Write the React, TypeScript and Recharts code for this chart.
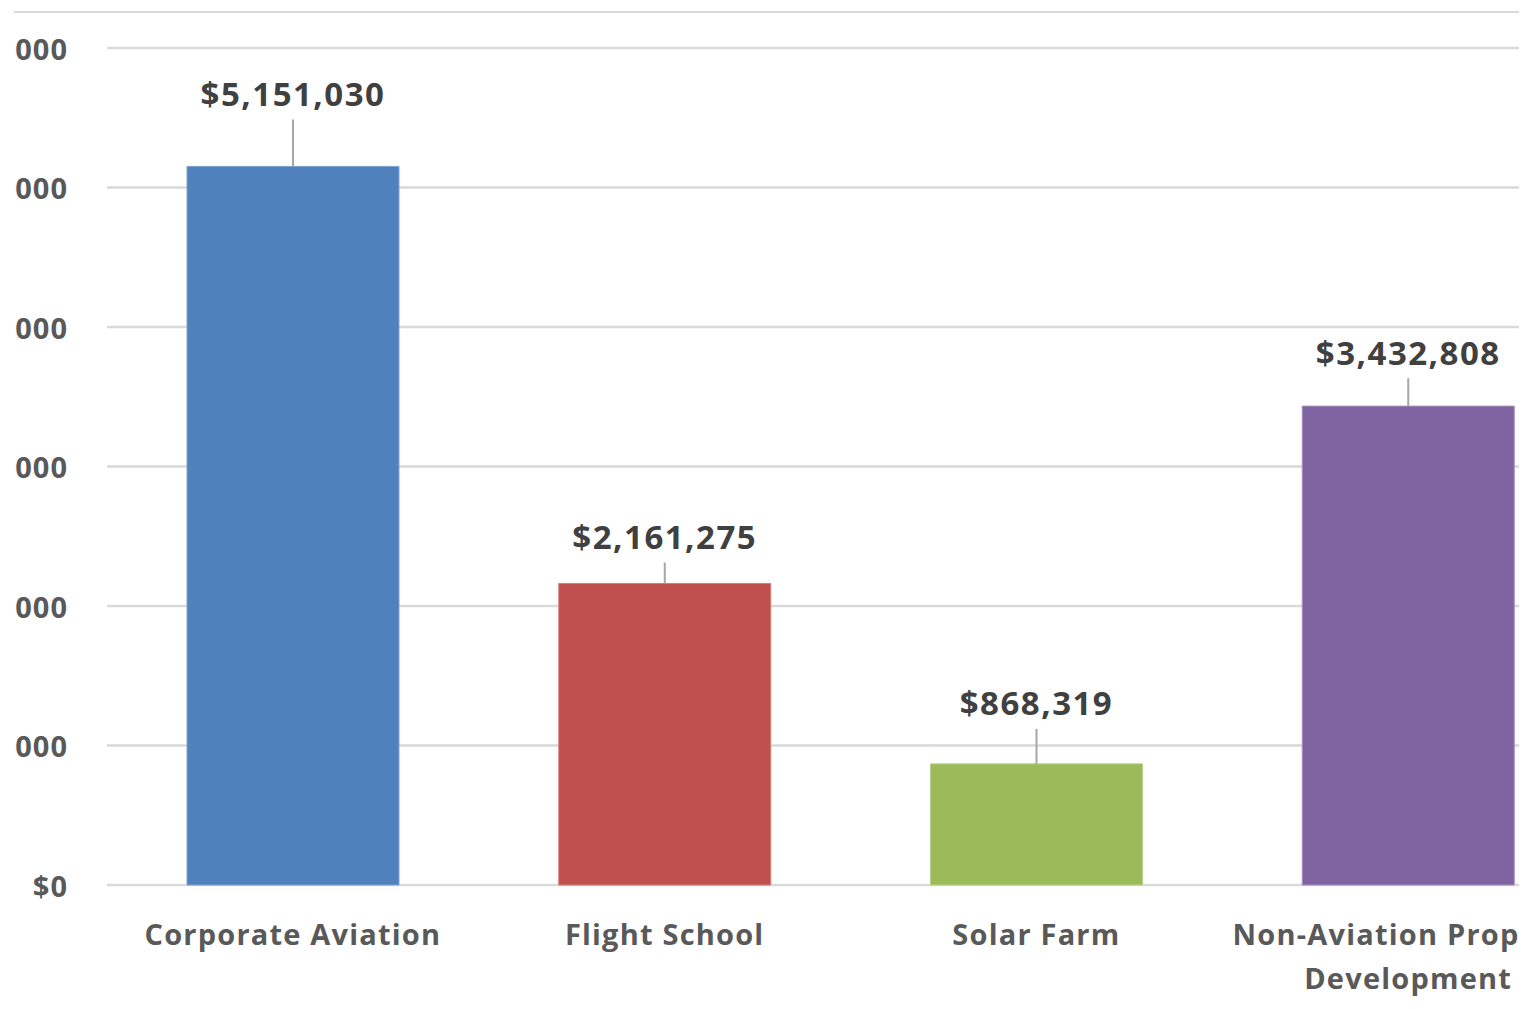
import React from "react";
import { BarChart, Bar, XAxis, YAxis, CartesianGrid, Cell, LabelList } from "recharts";

const categories = ["Corporate Aviation", "Flight School", "Solar Farm", "Non-Aviation Property Development"];
const revenue = [5151030, 2161275, 868319, 3432808];
const yTicks = [0, 1000000, 2000000, 3000000, 4000000, 5000000, 6000000];

const barColors = ["#4F81BD", "#C0504D", "#9BBB59", "#8064A2"];
const barStrokes = ["#7fa3d0", "#d27e7b", "#b9d08a", "#a48ec0"];
const labelLift = [73, 47, 61, 54];

const data = categories.map((name, i) => ({ name, value: revenue[i] }));

const FONT = "'Open Sans', 'Noto Sans', sans-serif";
const fmt = (v: number) => "$" + v.toLocaleString("en-US");

const wrap = (s: string, max: number) => {
  const words = s.split(" ");
  const lines: string[] = [];
  let cur = "";
  for (const w of words) {
    const t = cur ? cur + " " + w : w;
    if (t.length > max && cur) {
      lines.push(cur);
      cur = w;
    } else cur = t;
  }
  if (cur) lines.push(cur);
  return lines;
};

const CatTick = (props: any) => {
  const { x, y, payload } = props;
  const lines = wrap(String(payload.value), 22);
  return (
    <text
      x={x}
      y={y}
      textAnchor="middle"
      fill="#595959"
      style={{ fontFamily: FONT, fontSize: 29, fontWeight: 700, letterSpacing: 1.2 }}
    >
      {lines.map((l, i) => (
        <tspan key={i} x={x} y={y + 40 + i * 44} dominantBaseline="central">
          {l}
        </tspan>
      ))}
    </text>
  );
};

const YTick = (props: any) => {
  const { x, y, payload } = props;
  return (
    <text
      x={x}
      y={y}
      textAnchor="end"
      dominantBaseline="central"
      fill="#595959"
      style={{ fontFamily: FONT, fontSize: 29, fontWeight: 700, letterSpacing: 1 }}
    >
      {fmt(payload.value)}
    </text>
  );
};

const ValueLabel = (props: any) => {
  const { x, y, width, value, index } = props;
  const cx = x + width / 2;
  const ly = y - labelLift[index];
  return (
    <g>
      <line x1={cx} x2={cx} y1={ly + 26} y2={y} stroke="#a6a6a6" strokeWidth={2} />
      <text
        x={cx}
        y={ly}
        textAnchor="middle"
        dominantBaseline="central"
        fill="#404040"
        style={{ fontFamily: FONT, fontSize: 33, fontWeight: 700, letterSpacing: 1.5 }}
      >
        {fmt(value)}
      </text>
    </g>
  );
};

export default function App() {
  return (
    <div style={{ position: "absolute", left: 0, top: 0, width: 1525, height: 1009, background: "#fff" }}>
      <div style={{ position: "absolute", left: 14, top: 11, width: 1505, height: 0, borderTop: "2.5px solid #d9d9d9" }} />
      <div style={{ position: "absolute", left: 14, top: 0, width: 1505, height: 1009, overflow: "hidden" }}>
        <div style={{ position: "absolute", left: -14, top: 0 }}>
          <BarChart
            width={1610}
            height={1009}
            data={data}
            margin={{ top: 48, right: 16, bottom: 0, left: 0 }}
          >
            <CartesianGrid vertical={false} stroke="#d9d9d9" strokeWidth={2.5} />
            <XAxis
              dataKey="name"
              axisLine={false}
              tickLine={false}
              height={124}
              interval={0}
              tick={<CatTick />}
            />
            <YAxis
              width={107}
              domain={[0, 6000000]}
              ticks={yTicks}
              tickFormatter={fmt}
              axisLine={false}
              tickLine={false}
              tickSize={0}
              tickMargin={39}
              tick={<YTick />}
            />
            <Bar dataKey="value" barSize={212} isAnimationActive={false}>
              {data.map((d, i) => (
                <Cell key={d.name} fill={barColors[i]} stroke={barStrokes[i]} strokeWidth={1} />
              ))}
              <LabelList dataKey="value" content={<ValueLabel />} />
            </Bar>
          </BarChart>
        </div>
      </div>
    </div>
  );
}
